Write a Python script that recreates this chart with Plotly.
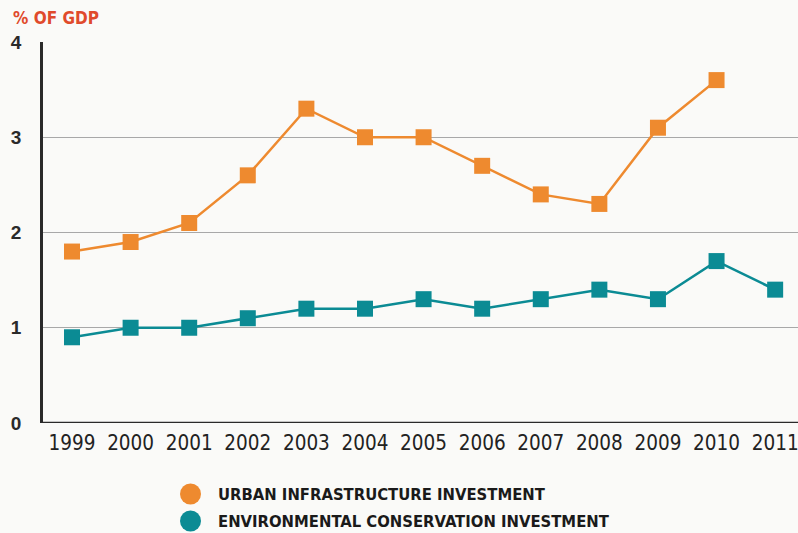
import plotly.graph_objects as go

years = [1999, 2000, 2001, 2002, 2003, 2004, 2005, 2006, 2007, 2008, 2009, 2010, 2011]
urban = [1.8, 1.9, 2.1, 2.6, 3.3, 3.0, 3.0, 2.7, 2.4, 2.3, 3.1, 3.6, None]
environ = [0.9, 1.0, 1.0, 1.1, 1.2, 1.2, 1.3, 1.2, 1.3, 1.4, 1.3, 1.7, 1.4]
y_ticks = [0, 1, 2, 3, 4]
series_names = ["URBAN INFRASTRUCTURE INVESTMENT", "ENVIRONMENTAL CONSERVATION INVESTMENT"]

ORANGE = "#ee8a2f"
TEAL = "#0b8b94"
COND = "DejaVu Sans Condensed, Liberation Sans Narrow, sans-serif"

fig = go.Figure()
for vals, col in [(urban, ORANGE), (environ, TEAL)]:
    fig.add_trace(go.Scatter(
        x=years, y=vals, mode="lines+markers", showlegend=False,
        line=dict(color=col, width=2.5),
        marker=dict(symbol="square", size=16, color=col),
        connectgaps=False, cliponaxis=False,
    ))

# legend drawn as circles + text below the chart
plot_top, plot_bot = 42.0, 423.0
def py(ypix):
    return (plot_bot - ypix) / (plot_bot - plot_top)
W = 755.0
def px(xpix):
    return (xpix - 43.0) / W

shapes = [dict(type="line", xref="paper", yref="y", x0=0, x1=1, y0=0, y1=0,
               line=dict(color="#2a2a2a", width=2.5), layer="above")]
annotations = [dict(
    text="% OF GDP", xref="paper", yref="paper", x=px(11), y=py(18),
    xanchor="left", yanchor="middle", showarrow=False,
    font=dict(family=COND, size=17, color="#e04a2c", weight="bold"),
)]
for i, (name, col) in enumerate(zip(series_names, [ORANGE, TEAL])):
    cy = 494 + 27 * i
    shapes.append(dict(type="circle", xref="paper", yref="paper",
                       x0=px(180), x1=px(201), y0=py(cy - 10.5), y1=py(cy + 10.5),
                       fillcolor=col, line=dict(width=0)))
    annotations.append(dict(
        text=name, xref="paper", yref="paper", x=px(216), y=py(cy),
        xanchor="left", yanchor="middle", showarrow=False,
        font=dict(family=COND, size=16.5, color="#1a1a1a", weight="bold"),
    ))

fig.update_layout(
    width=798, height=533,
    margin=dict(l=43, r=0, t=42, b=110, autoexpand=False),
    paper_bgcolor="#fafaf8", plot_bgcolor="#fafaf8",
    showlegend=False,
    xaxis=dict(
        range=[1998.505, 2011.39], tickmode="array", tickvals=years,
        ticktext=[str(y) for y in years], showgrid=False, zeroline=False,
        showline=False, ticks="", automargin=False, ticklabeloverflow="allow",
        ticklabelstandoff=5,
        tickfont=dict(family=COND, size=20.5, color="#222222"),
    ),
    yaxis=dict(
        range=[0, 4], tickmode="array", tickvals=y_ticks,
        ticktext=[str(v) for v in y_ticks],
        showgrid=True, gridcolor="#a8a8a8", gridwidth=1.2,
        zeroline=False, showline=True, linecolor="#2a2a2a", linewidth=2.5,
        ticks="", ticklabelstandoff=15, automargin=False,
        tickfont=dict(family="Liberation Sans, Arial, sans-serif", size=19, color="#2a2a2a", weight="bold"),
    ),
    shapes=shapes,
    annotations=annotations,
)

fig.write_html("out.html")
